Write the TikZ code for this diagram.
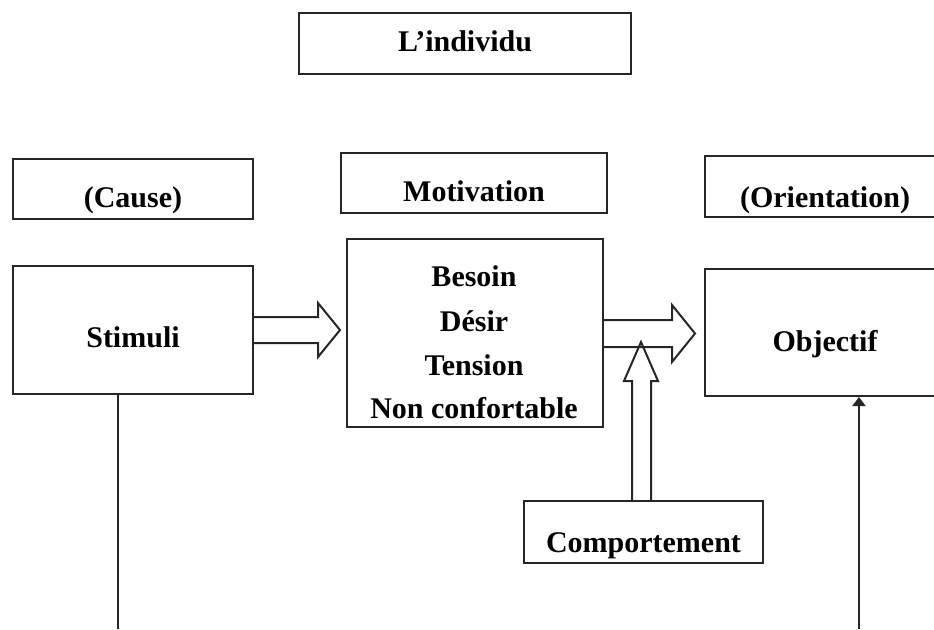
\documentclass[tikz,border=0pt]{standalone}
\usepackage{fontspec}
\setmainfont{Liberation Serif}
\usetikzlibrary{arrows.meta,calc}
\begin{document}
\begin{tikzpicture}[x=1pt,y=-1pt,
  txt/.style={font=\fontsize{30}{36}\selectfont\bfseries},
  box/.style={txt, draw=black!85, line width=2pt, inner sep=0pt, anchor=north west},
  lbl/.style={txt, inner sep=0pt, anchor=base},
  blockarrow/.style={draw=black!85, line width=2pt, line join=miter},
  link/.style={draw=black!85, line width=2pt}]
\useasboundingbox (0,0) rectangle (934,629);
\clip (0,0) rectangle (934,629);

% title
\node[box, minimum width=332pt, text height=38pt, text depth=23pt] (indiv) at (298,12) {L'individu};

% column headers
\node[box, minimum width=240pt, text height=48pt, text depth=12pt] (cause) at (12,158) {(Cause)};
\node[box, minimum width=266pt, text height=48pt, text depth=12pt] (motiv) at (340,152) {Motivation};
\node[box, minimum width=240pt, text height=51pt, text depth=10pt] (orient) at (704,155) {(Orientation)};

% main row
\node[box, minimum width=240pt, text height=81pt, text depth=47pt] (stimuli) at (12,265) {Stimuli};
\node[box, minimum width=256pt, minimum height=188pt] (motbox) at (346,238) {};
\node[lbl] (besoin) at (474,286) {Besoin};
\node[lbl] (desir) at (474,331) {Désir};
\node[lbl] (tension) at (474,375) {Tension};
\node[lbl] (nonconf) at (474,418) {Non confortable};
\node[box, minimum width=240pt, text height=82pt, text depth=45pt] (objectif) at (704,268) {Objectif};

% behaviour box
\node[box, minimum width=239pt, text height=51pt, text depth=11pt] (comport) at (523,500) {Comportement};

% hollow block arrows
\draw[blockarrow] (stimuli.east |- 0,317) -- (318,317) -- (318,303) -- (340,330)
  -- (318,357) -- (318,343) -- (stimuli.east |- 0,343);
\draw[blockarrow] (motbox.east |- 0,320) -- (672,320) -- (672,305) -- (695,333.5)
  -- (672,362) -- (672,347) -- (motbox.east |- 0,347);
\draw[blockarrow] (632,0 |- comport.north) -- (632,381) -- (624,381) -- (641,342)
  -- (658,381) -- (651,381) -- (651,0 |- comport.north);

% long connectors running off the bottom
\coordinate (leftend) at (118,629);
\coordinate (rightend) at (859,629);
\draw[link] (leftend |- stimuli.south) -- (leftend);
\draw[link, -{Triangle[length=9pt,width=13pt]}] (rightend) -- (rightend |- objectif.south);
\end{tikzpicture}
\end{document}
